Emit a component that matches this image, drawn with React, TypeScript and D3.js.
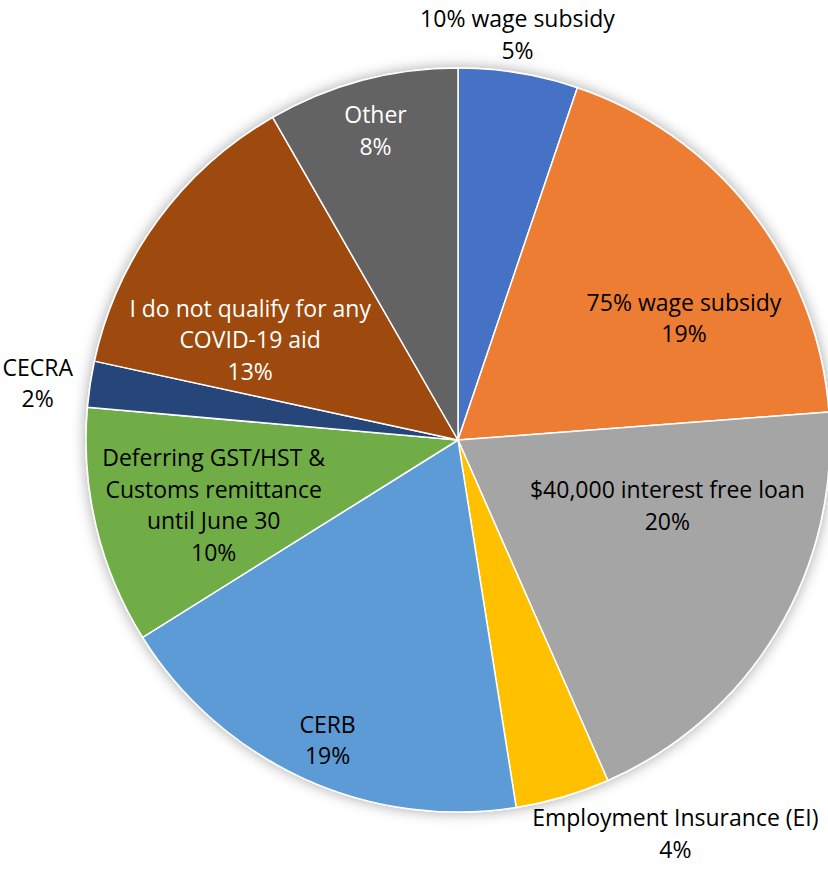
import React from "react";
import * as d3 from "d3";

// slice order clockwise from 12 o'clock
const categories = [
  ["10% wage subsidy"],
  ["75% wage subsidy"],
  ["$40,000 interest free loan"],
  ["Employment Insurance (EI)"],
  ["CERB"],
  ["Deferring GST/HST &", "Customs remittance", "until June 30"],
  ["CECRA"],
  ["I do not qualify for any", "COVID-19 aid"],
  ["Other"],
];
const shares = [5.2, 18.6, 19.6, 4.1, 18.6, 10.3, 2.0, 13.3, 8.3];
const colors = ["#4472C4", "#ED7D31", "#A5A5A5", "#FFC000", "#5B9BD5", "#70AD47", "#264478", "#9E480E", "#636363"];
const labelColors = ["#000", "#000", "#000", "#000", "#000", "#000", "#000", "#fff", "#fff"];

// label placement (best-fit style): radius as fraction of pie radius, angle shift in degrees
const labelPlace = [
  { r: 1.1, da: -1 },
  { r: 0.69, da: 9.5 },
  { r: 0.59, da: -13.5 },
  { r: 1.21, da: -12.5 },
  { r: 0.88, da: -1 },
  { r: 0.68, da: -1.5 },
  { r: 1.14, da: -1 },
  { r: 0.62, da: -10.5 },
  { r: 0.86, da: 0 },
];

const W = 828, H = 871;
const cx = 458, cy = 440, R = 372;
const fontSize = 23;
const lineH = 31.5;

export default function App() {
  const pie = d3.pie<number>().sort(null).value((d) => d)(shares);
  const arc = d3.arc<d3.PieArcDatum<number>>().innerRadius(0).outerRadius(R);
  const total = d3.sum(shares);

  return (
    <svg width={W} height={H} style={{ position: "absolute", left: 0, top: 0, background: "#fff" }}
      fontFamily="'Open Sans', sans-serif">
      <defs>
        <filter id="shadow" x="-10%" y="-10%" width="120%" height="120%">
          <feDropShadow dx="0" dy="0" stdDeviation="7" floodColor="#000" floodOpacity="0.35" />
        </filter>
      </defs>
      <g transform={`translate(${cx},${cy})`}>
        <g filter="url(#shadow)">
          {pie.map((p, i) => (
            <path key={i} d={arc(p) || ""} fill={colors[i]} stroke="#fff" strokeWidth={1.5} strokeLinejoin="round" />
          ))}
        </g>
        {pie.map((p, i) => {
          const mid = (p.startAngle + p.endAngle) / 2 + (labelPlace[i].da * Math.PI) / 180;
          const rr = R * labelPlace[i].r;
          const x = Math.sin(mid) * rr;
          const y = -Math.cos(mid) * rr;
          const lines = [...categories[i], `${Math.round((shares[i] / total) * 100)}%`];
          const y0 = y - ((lines.length - 1) * lineH) / 2;
          return (
            <text key={i} textAnchor="middle" fontSize={fontSize} fill={labelColors[i]}>
              {lines.map((t, j) => (
                <tspan key={j} x={x} y={y0 + j * lineH} dy="0.35em">{t}</tspan>
              ))}
            </text>
          );
        })}
      </g>
    </svg>
  );
}
